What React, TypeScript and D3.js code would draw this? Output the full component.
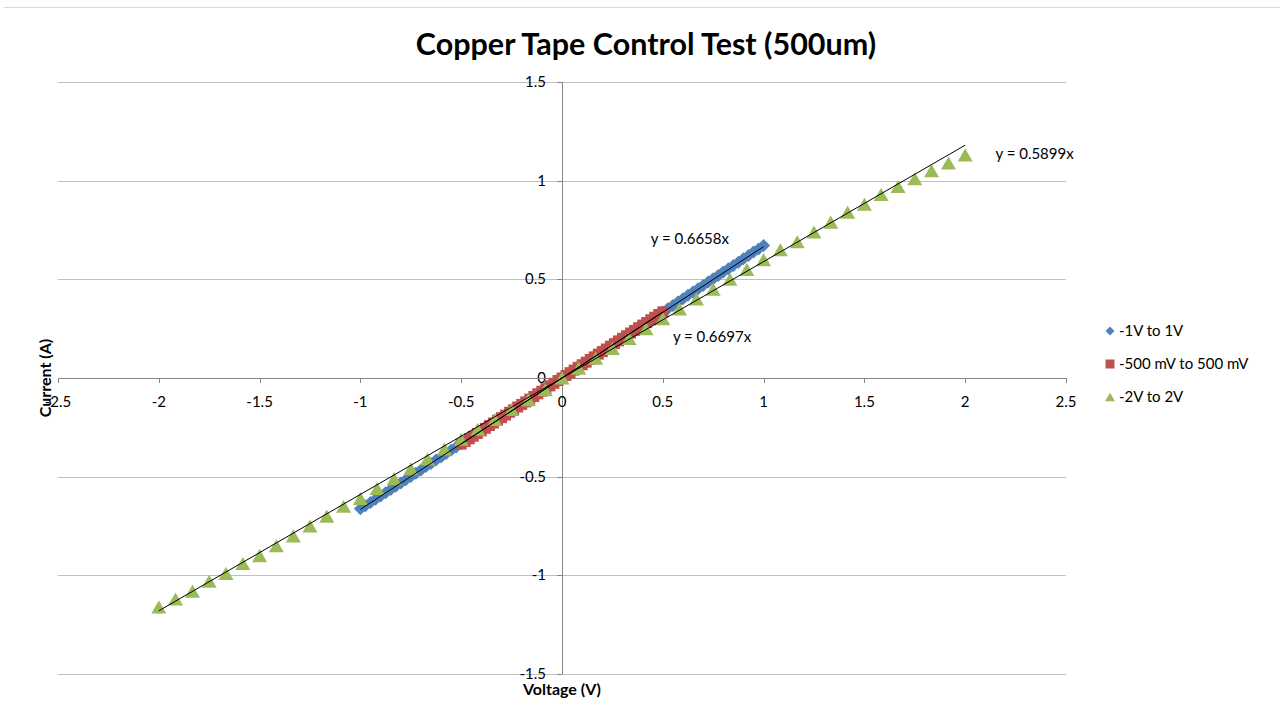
import React from "react";
import * as d3 from "d3";

const W = 1280;
const H = 717;

const xTicks = [-2.5, -2, -1.5, -1, -0.5, 0, 0.5, 1, 1.5, 2, 2.5];
const yTicks = [-1.5, -1, -0.5, 0, 0.5, 1, 1.5];

// -1V to 1V sweep
const blueV = [-1, -0.975, -0.95, -0.925, -0.9, -0.875, -0.85, -0.825, -0.8, -0.775, -0.75, -0.725, -0.7, -0.675, -0.65, -0.625, -0.6, -0.575, -0.55, -0.525,
  -0.5, -0.475, -0.45, -0.425, -0.4, -0.375, -0.35, -0.325, -0.3, -0.275, -0.25, -0.225, -0.2, -0.175, -0.15, -0.125, -0.1, -0.075, -0.05, -0.025, 0,
  0.025, 0.05, 0.075, 0.1, 0.125, 0.15, 0.175, 0.2, 0.225, 0.25, 0.275, 0.3, 0.325, 0.35, 0.375, 0.4, 0.425, 0.45, 0.475, 0.5,
  0.525, 0.55, 0.575, 0.6, 0.625, 0.65, 0.675, 0.7, 0.725, 0.75, 0.775, 0.8, 0.825, 0.85, 0.875, 0.9, 0.925, 0.95, 0.975, 1];
const blueI = [-0.662, -0.647, -0.631, -0.615, -0.598, -0.582, -0.565, -0.549, -0.532, -0.516, -0.499, -0.483, -0.466, -0.449, -0.433, -0.416, -0.4, -0.383, -0.366, -0.35,
  -0.333, -0.316, -0.3, -0.283, -0.266, -0.25, -0.233, -0.216, -0.2, -0.183, -0.166, -0.15, -0.133, -0.116, -0.1, -0.083, -0.067, -0.05, -0.033, -0.017, 0,
  0.017, 0.033, 0.05, 0.067, 0.083, 0.1, 0.117, 0.134, 0.15, 0.167, 0.184, 0.2, 0.217, 0.234, 0.251, 0.267, 0.284, 0.301, 0.318, 0.335,
  0.351, 0.368, 0.385, 0.402, 0.419, 0.436, 0.452, 0.469, 0.486, 0.503, 0.52, 0.537, 0.553, 0.57, 0.587, 0.604, 0.621, 0.638, 0.654, 0.671];

// -500 mV to 500 mV sweep
const redV = [-0.5, -0.48, -0.46, -0.44, -0.42, -0.4, -0.38, -0.36, -0.34, -0.32, -0.3, -0.28, -0.26, -0.24, -0.22, -0.2, -0.18, -0.16, -0.14, -0.12, -0.1, -0.08, -0.06, -0.04, -0.02, 0,
  0.02, 0.04, 0.06, 0.08, 0.1, 0.12, 0.14, 0.16, 0.18, 0.2, 0.22, 0.24, 0.26, 0.28, 0.3, 0.32, 0.34, 0.36, 0.38, 0.4, 0.42, 0.44, 0.46, 0.48, 0.5];
const redI = [-0.335, -0.322, -0.308, -0.295, -0.281, -0.268, -0.255, -0.241, -0.228, -0.214, -0.201, -0.188, -0.174, -0.161, -0.147, -0.134, -0.121, -0.107, -0.094, -0.08, -0.067, -0.054, -0.04, -0.027, -0.013, 0,
  0.013, 0.027, 0.04, 0.054, 0.067, 0.08, 0.094, 0.107, 0.121, 0.134, 0.147, 0.161, 0.174, 0.188, 0.201, 0.214, 0.228, 0.241, 0.255, 0.268, 0.281, 0.295, 0.308, 0.322, 0.335];

// -2V to 2V sweep
const greenV = [-2, -1.917, -1.833, -1.75, -1.667, -1.583, -1.5, -1.417, -1.333, -1.25, -1.167, -1.083, -1, -0.917, -0.833, -0.75, -0.667, -0.583, -0.5, -0.417, -0.333, -0.25, -0.167, -0.083, 0,
  0.083, 0.167, 0.25, 0.333, 0.417, 0.5, 0.583, 0.667, 0.75, 0.833, 0.917, 1, 1.083, 1.167, 1.25, 1.333, 1.417, 1.5, 1.583, 1.667, 1.75, 1.833, 1.917, 2];
const greenI = [-1.16, -1.12, -1.08, -1.03, -0.99, -0.94, -0.9, -0.85, -0.8, -0.75, -0.7, -0.65, -0.61, -0.56, -0.51, -0.46, -0.41, -0.36, -0.31, -0.26, -0.21, -0.16, -0.11, -0.06, 0,
  0.05, 0.1, 0.15, 0.2, 0.25, 0.3, 0.35, 0.4, 0.45, 0.5, 0.55, 0.6, 0.65, 0.69, 0.74, 0.79, 0.84, 0.88, 0.93, 0.97, 1.01, 1.05, 1.09, 1.13];

const seriesNames = ["-1V to 1V", "-500 mV to 500 mV", "-2V to 2V"];
const seriesColors = ["#4F81BD", "#C0504D", "#9BBB59"];
const trendSlopes = [0.6658, 0.6697, 0.5899];
const trendLabels = ["y = 0.6658x", "y = 0.6697x", "y = 0.5899x"];
// label anchor in data units (voltage, current)
const trendLabelPos = [[0.44, 0.68], [0.55, 0.18], [2.15, 1.11]];

const font = "Lato, 'Open Sans', sans-serif";

const diamond = (x: number, y: number, r: number) =>
  `M${x},${y - r}L${x + r},${y}L${x},${y + r}L${x - r},${y}Z`;
const square = (x: number, y: number, r: number) =>
  `M${x - r},${y - r}h${2 * r}v${2 * r}h${-2 * r}Z`;
const triangle = (x: number, y: number, r: number) =>
  `M${x},${y - r * 0.87}L${x + r},${y + r * 0.87}L${x - r},${y + r * 0.87}Z`;

const shapes = [diamond, square, triangle];
const markerR = [6.5, 5.5, 7.5];

export default function App() {
  const x = d3.scaleLinear().domain([-2.5, 2.5]).range([58, 1066]);
  const y = d3.scaleLinear().domain([-1.5, 1.5]).range([674, 82]);

  const series = [
    { v: blueV, i: blueI },
    { v: redV, i: redI },
    { v: greenV, i: greenI },
  ];

  return (
    <svg width={W} height={H} style={{ position: "absolute", left: 0, top: 0, background: "#fff" }}>
      <line x1={4} x2={W} y1={7.5} y2={7.5} stroke="#d9d9d9" />
      <text x={646} y={55} textAnchor="middle" fontFamily={font} fontWeight="bold" fontSize={30.5} fill="#000">
        Copper Tape Control Test (500um)
      </text>

      {/* gridlines */}
      {yTicks.map((t) => (
        <line key={"g" + t} x1={x(-2.5)} x2={x(2.5)} y1={Math.round(y(t)) + 0.5} y2={Math.round(y(t)) + 0.5} stroke="#bfbfbf" />
      ))}

      {/* y axis */}
      <line x1={x(0) + 0.5} x2={x(0) + 0.5} y1={y(1.5)} y2={y(-1.5)} stroke="#868686" />
      {yTicks.map((t) => (
        <g key={"y" + t}>
          <line x1={x(0) - 5} x2={x(0)} y1={Math.round(y(t)) + 0.5} y2={Math.round(y(t)) + 0.5} stroke="#868686" />
          <text x={x(0) - 16} y={y(t) + 5} textAnchor="end" fontFamily={font} fontSize={15} fill="#000">
            {t}
          </text>
        </g>
      ))}

      {/* x axis */}
      <line x1={x(-2.5)} x2={x(2.5)} y1={Math.round(y(0)) + 0.5} y2={Math.round(y(0)) + 0.5} stroke="#868686" />
      {xTicks.map((t) => (
        <g key={"x" + t}>
          <line x1={Math.round(x(t)) + 0.5} x2={Math.round(x(t)) + 0.5} y1={y(0)} y2={y(0) + 5} stroke="#868686" />
          <text x={x(t)} y={y(0) + 29} textAnchor="middle" fontFamily={font} fontSize={15} fill="#000">
            {t}
          </text>
        </g>
      ))}

      {/* markers */}
      {series.map((s, k) => (
        <g key={"s" + k} fill={seriesColors[k]}>
          {s.v.map((v, j) => (
            <path key={j} d={shapes[k](x(v), y(s.i[j]), markerR[k])} />
          ))}
        </g>
      ))}

      {/* trend lines */}
      {series.map((s, k) => {
        const ext = d3.extent(s.v) as [number, number];
        const pts = ext.map((v) => [x(v), y(v * trendSlopes[k])] as [number, number]);
        const l = d3.line();
        return <path key={"t" + k} d={l(pts) || ""} stroke="#000" strokeWidth={1} fill="none" />;
      })}
      {trendLabels.map((lab, k) => (
        <text key={"tl" + k} x={x(trendLabelPos[k][0])} y={y(trendLabelPos[k][1])} fontFamily={font} fontSize={15} fill="#000">
          {lab}
        </text>
      ))}

      {/* axis titles */}
      <text x={562} y={695} textAnchor="middle" fontFamily={font} fontWeight="bold" fontSize={16} fill="#000">
        Voltage (V)
      </text>
      <text transform={`translate(51,378) rotate(-90)`} textAnchor="middle" fontFamily={font} fontWeight="bold" fontSize={16} fill="#000">
        Current (A)
      </text>

      {/* legend */}
      {seriesNames.map((n, k) => {
        const ly = 331 + k * 33;
        return (
          <g key={"l" + k}>
            <path d={shapes[k](1110, ly, [4.5, 4.5, 5][k])} fill={seriesColors[k]} />
            <text x={1119} y={ly + 5} fontFamily={font} fontSize={15} fill="#000">
              {n}
            </text>
          </g>
        );
      })}
    </svg>
  );
}
